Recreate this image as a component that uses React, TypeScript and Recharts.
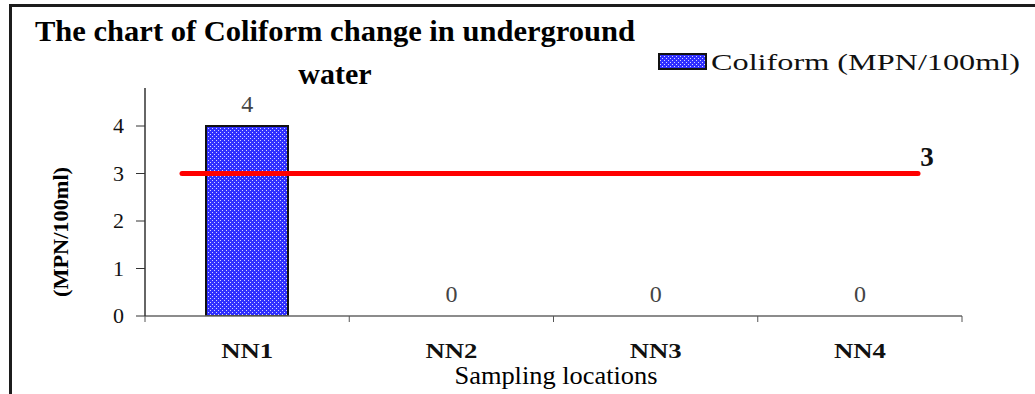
import { ComposedChart, Bar, Line, XAxis, YAxis, ReferenceLine, LabelList } from "recharts";

// sampling sites and measured coliform counts
const locations = ["NN1", "NN2", "NN3", "NN4"];
const coliform = [4, 0, 0, 0];
const yTicks = [0, 1, 2, 3, 4];
const yMax = 4.8;
// permitted limit drawn as the red line
const limit = 3;
const seriesName = "Coliform (MPN/100ml)";

const SERIF = "'Times New Roman', 'Liberation Serif', 'DejaVu Serif', serif";

const W = 1035;
const H = 394;
const MARGIN = { top: 88, right: 73, bottom: 48, left: 85 };
const Y_AXIS_W = 60;
const PLOT_W = W - MARGIN.left - MARGIN.right - Y_AXIS_W;
const BAND = PLOT_W / locations.length;

const chartData = locations.map((name, i) => ({ name, value: coliform[i] }));

// dotted blue fill used by the bar and its legend swatch
function DotPattern({ id }: { id: string }) {
  return (
    <pattern id={id} width={4} height={4} patternUnits="userSpaceOnUse">
      <rect width={4} height={4} fill="#3030ff" />
      <rect x={0} y={0} width={1} height={1} fill="#d4d4ff" />
      <rect x={2} y={2} width={1} height={1} fill="#d4d4ff" />
    </pattern>
  );
}

function XTick(props: any) {
  const { x, y, payload, index } = props;
  return (
    <g>
      {index === 0 && (
        <line x1={x - BAND / 2} y1={y} x2={x - BAND / 2} y2={y + 6} stroke="#555" />
      )}
      <line x1={x + BAND / 2} y1={y} x2={x + BAND / 2} y2={y + 6} stroke="#555" />
      <text
        x={x}
        y={y + 42}
        textAnchor="middle"
        style={{ fontFamily: SERIF, fontWeight: "bold", fontSize: 22 }}
        fill="#111"
        textLength={52}
        lengthAdjust="spacingAndGlyphs"
      >
        {payload.value}
      </text>
    </g>
  );
}

function YTick(props: any) {
  const { x, y, payload } = props;
  return (
    <text x={x} y={y + 7} textAnchor="end" style={{ fontFamily: SERIF, fontSize: 22 }} fill="#111">
      {payload.value}
    </text>
  );
}

function ValueLabel(props: any) {
  const { x, y, value } = props;
  return (
    <text x={x} y={y - 14} textAnchor="middle" style={{ fontFamily: SERIF, fontSize: 24 }} fill="#444">
      {value}
    </text>
  );
}

function LimitLine(props: any) {
  const { x1, x2, y1 } = props;
  const left = x1 + 37;
  const right = x2 - 44;
  return (
    <g>
      <line x1={left} y1={y1} x2={right} y2={y1} stroke="#ff0000" strokeWidth={5} strokeLinecap="round" />
      <text
        x={right + 9}
        y={y1 - 8}
        textAnchor="middle"
        style={{ fontFamily: SERIF, fontWeight: "bold", fontSize: 27 }}
        fill="#111"
      >
        {limit}
      </text>
    </g>
  );
}

export default function App() {
  return (
    <div
      style={{
        position: "absolute",
        left: 0,
        top: 0,
        width: W,
        height: H,
        background: "#fff",
        fontFamily: SERIF,
      }}
    >
      <div
        style={{
          position: "absolute",
          left: 9,
          top: 4,
          right: 0,
          bottom: 0,
          borderTop: "3px solid #1c1c1c",
          borderLeft: "3px solid #1c1c1c",
        }}
      />
      <ComposedChart width={W} height={H} data={chartData} margin={MARGIN} style={{ fontFamily: SERIF }}>
        <defs>
          <DotPattern id="barDots" />
        </defs>
        <text
          x={35}
          y={41}
          style={{ fontFamily: SERIF, fontWeight: "bold", fontSize: 30 }}
          fill="#000"
          textLength={600}
          lengthAdjust="spacingAndGlyphs"
        >
          The chart of Coliform change in underground
        </text>
        <text
          x={335}
          y={84}
          textAnchor="middle"
          style={{ fontFamily: SERIF, fontWeight: "bold", fontSize: 30 }}
          fill="#000"
        >
          water
        </text>
        <g>
          <rect x={659} y={54} width={47} height={15} fill="url(#barDots)" stroke="#111" strokeWidth={2} />
          <text
            x={711}
            y={70}
            style={{ fontFamily: SERIF, fontSize: 24 }}
            fill="#111"
            textLength={309}
            lengthAdjust="spacingAndGlyphs"
          >
            {seriesName}
          </text>
        </g>
        <text
          x={0}
          y={0}
          transform="translate(68 232) rotate(-90)"
          textAnchor="middle"
          style={{ fontFamily: SERIF, fontWeight: "bold", fontSize: 22 }}
          fill="#000"
          textLength={130}
          lengthAdjust="spacingAndGlyphs"
        >
          (MPN/100ml)
        </text>
        <text
          x={556}
          y={384}
          textAnchor="middle"
          style={{ fontFamily: SERIF, fontSize: 25 }}
          fill="#000"
          textLength={203}
          lengthAdjust="spacingAndGlyphs"
        >
          Sampling locations
        </text>
        <XAxis
          dataKey="name"
          axisLine={{ stroke: "#666", strokeWidth: 1.5 }}
          tickLine={false}
          tickSize={0}
          tickMargin={0}
          tick={<XTick />}
          interval={0}
        />
        <YAxis
          width={Y_AXIS_W}
          domain={[0, yMax]}
          ticks={yTicks}
          allowDataOverflow
          axisLine={{ stroke: "#333", strokeWidth: 1.5 }}
          tickLine={{ stroke: "#333" }}
          tickSize={9}
          tickMargin={12}
          tick={<YTick />}
        />
        <Bar
          dataKey="value"
          name={seriesName}
          barSize={82}
          fill="url(#barDots)"
          stroke="#111"
          strokeWidth={2}
          isAnimationActive={false}
        />
        {/* invisible series that carries the value labels, including the zero readings */}
        <Line
          dataKey="value"
          stroke="none"
          dot={false}
          activeDot={false}
          legendType="none"
          isAnimationActive={false}
        >
          <LabelList dataKey="value" content={<ValueLabel />} />
        </Line>
        <ReferenceLine y={limit} shape={<LimitLine />} />
      </ComposedChart>
    </div>
  );
}
